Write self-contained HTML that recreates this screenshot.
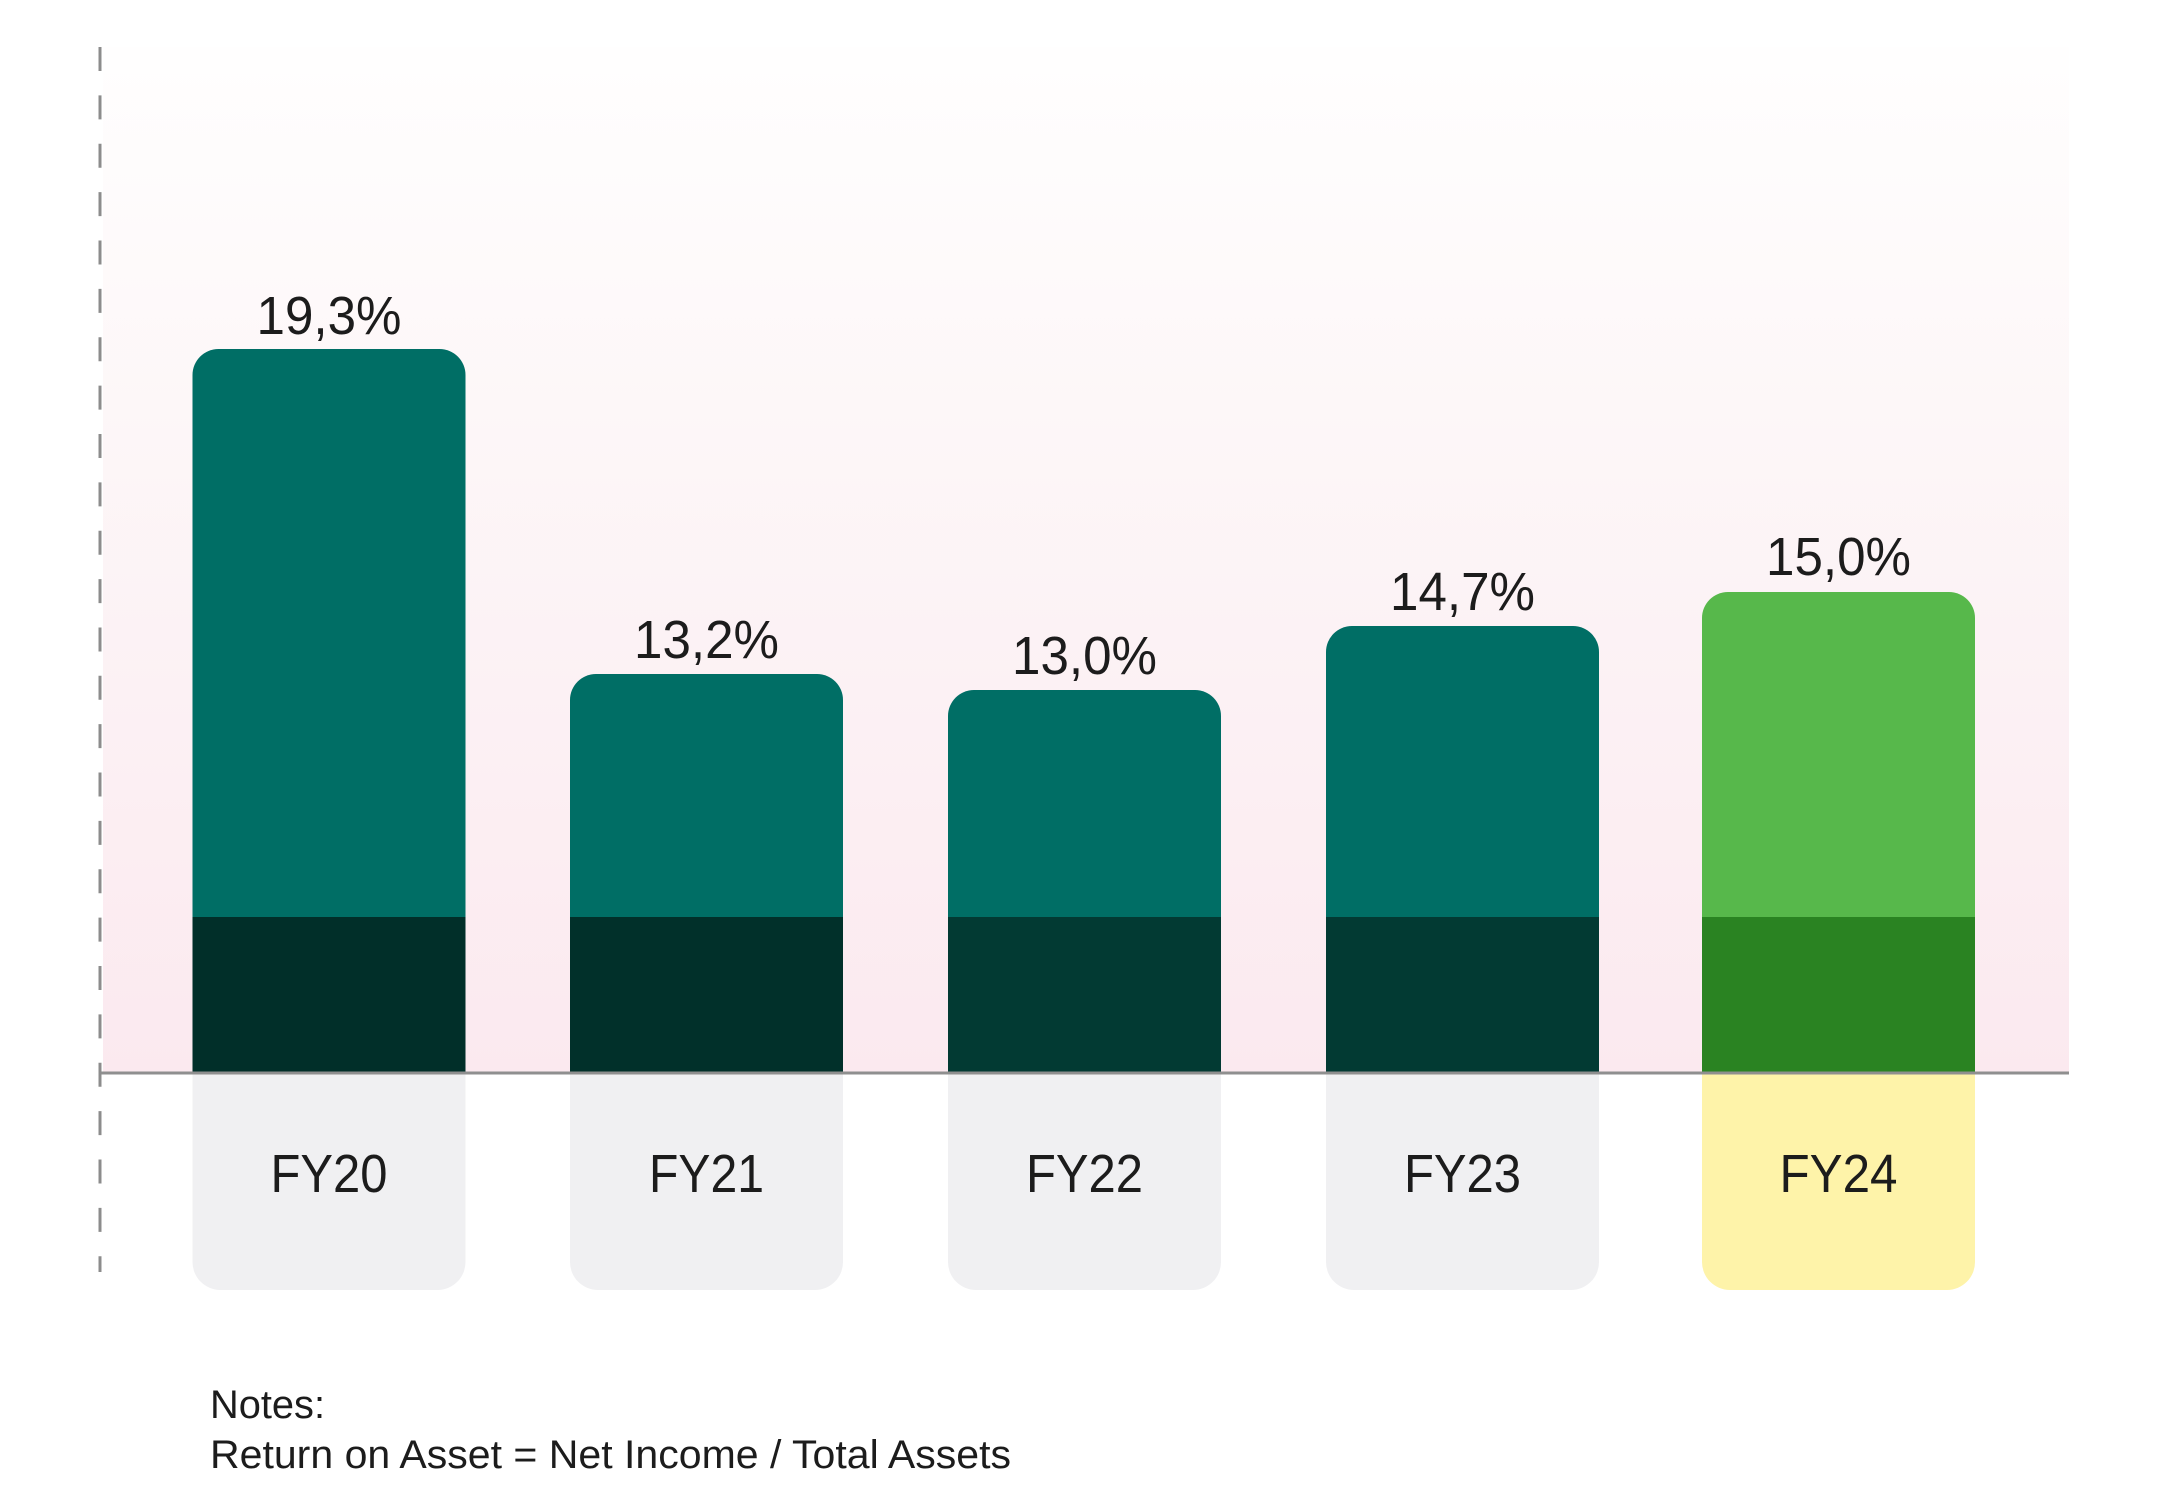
<!DOCTYPE html>
<html>
<head>
<meta charset="utf-8">
<style>
  html, body { margin: 0; padding: 0; background: #ffffff; }
  svg { display: block; }
  text { font-family: "Liberation Sans", sans-serif; fill: #1c1c1c; }
</style>
</head>
<body>
<svg width="2160" height="1512" viewBox="0 0 2160 1512" xmlns="http://www.w3.org/2000/svg">
  <defs>
    <linearGradient id="bg" x1="0" y1="0" x2="0" y2="1">
      <stop offset="0" stop-color="#fffefe"/>
      <stop offset="0.35" stop-color="#fdf7f8"/>
      <stop offset="1" stop-color="#fbe9ef"/>
    </linearGradient>
  </defs>
  <rect x="0" y="0" width="2160" height="1512" fill="#ffffff"/>
  <!-- plot background -->
  <rect x="103" y="47" width="1966" height="1026" fill="url(#bg)"/>

  <!-- label boxes -->
  <path d="M192.5 1074 H465.5 V1262 A28 28 0 0 1 437.5 1290 H220.5 A28 28 0 0 1 192.5 1262 Z" fill="#f0f0f2"/>
  <path d="M570 1074 H843 V1262 A28 28 0 0 1 815 1290 H598 A28 28 0 0 1 570 1262 Z" fill="#f0f0f2"/>
  <path d="M948 1074 H1221 V1262 A28 28 0 0 1 1193 1290 H976 A28 28 0 0 1 948 1262 Z" fill="#f0f0f2"/>
  <path d="M1326 1074 H1599 V1262 A28 28 0 0 1 1571 1290 H1354 A28 28 0 0 1 1326 1262 Z" fill="#f0f0f2"/>
  <path d="M1702 1074 H1975 V1262 A28 28 0 0 1 1947 1290 H1730 A28 28 0 0 1 1702 1262 Z" fill="#fef3a9"/>

  <!-- bars: upper segments -->
  <path d="M192.5 917 V375 A26 26 0 0 1 218.5 349 H439.5 A26 26 0 0 1 465.5 375 V917 Z" fill="#006e65"/>
  <path d="M570 917 V700 A26 26 0 0 1 596 674 H817 A26 26 0 0 1 843 700 V917 Z" fill="#006e65"/>
  <path d="M948 917 V716 A26 26 0 0 1 974 690 H1195 A26 26 0 0 1 1221 716 V917 Z" fill="#006e65"/>
  <path d="M1326 917 V652 A26 26 0 0 1 1352 626 H1573 A26 26 0 0 1 1599 652 V917 Z" fill="#006e65"/>
  <path d="M1702 917 V618 A26 26 0 0 1 1728 592 H1949 A26 26 0 0 1 1975 618 V917 Z" fill="#57b84b"/>

  <!-- bars: lower dark segments -->
  <rect x="192.5" y="917" width="273" height="156" fill="#012f29"/>
  <rect x="570" y="917" width="273" height="156" fill="#01302a"/>
  <rect x="948" y="917" width="273" height="156" fill="#023a33"/>
  <rect x="1326" y="917" width="273" height="156" fill="#023a33"/>
  <rect x="1702" y="917" width="273" height="156" fill="#2a8322"/>

  <!-- axis line -->
  <line x1="100" y1="1073" x2="2069" y2="1073" stroke="#8f8f8f" stroke-width="3"/>
  <!-- dashed vertical axis -->
  <line x1="100" y1="47" x2="100" y2="1272" stroke="#8c8c8c" stroke-width="3" stroke-dasharray="24 24.37"/>

  <!-- value labels -->
  <text x="329" y="334" font-size="54" text-anchor="middle" textLength="145" lengthAdjust="spacingAndGlyphs">19,3%</text>
  <text x="706.5" y="658" font-size="54" text-anchor="middle" textLength="145" lengthAdjust="spacingAndGlyphs">13,2%</text>
  <text x="1084.5" y="674" font-size="54" text-anchor="middle" textLength="145" lengthAdjust="spacingAndGlyphs">13,0%</text>
  <text x="1462.5" y="610" font-size="54" text-anchor="middle" textLength="145" lengthAdjust="spacingAndGlyphs">14,7%</text>
  <text x="1838.5" y="575" font-size="54" text-anchor="middle" textLength="145" lengthAdjust="spacingAndGlyphs">15,0%</text>

  <!-- category labels -->
  <text x="329" y="1192" font-size="54" text-anchor="middle" textLength="117" lengthAdjust="spacingAndGlyphs">FY20</text>
  <text x="706.5" y="1192" font-size="54" text-anchor="middle" textLength="115" lengthAdjust="spacingAndGlyphs">FY21</text>
  <text x="1084.5" y="1192" font-size="54" text-anchor="middle" textLength="117" lengthAdjust="spacingAndGlyphs">FY22</text>
  <text x="1462.5" y="1192" font-size="54" text-anchor="middle" textLength="117" lengthAdjust="spacingAndGlyphs">FY23</text>
  <text x="1838.5" y="1192" font-size="54" text-anchor="middle" textLength="118" lengthAdjust="spacingAndGlyphs">FY24</text>

  <!-- notes -->
  <text x="210" y="1418" font-size="40" textLength="115" lengthAdjust="spacingAndGlyphs">Notes:</text>
  <text x="210" y="1468" font-size="40" textLength="801" lengthAdjust="spacingAndGlyphs">Return on Asset = Net Income / Total Assets</text>
</svg>
</body>
</html>
